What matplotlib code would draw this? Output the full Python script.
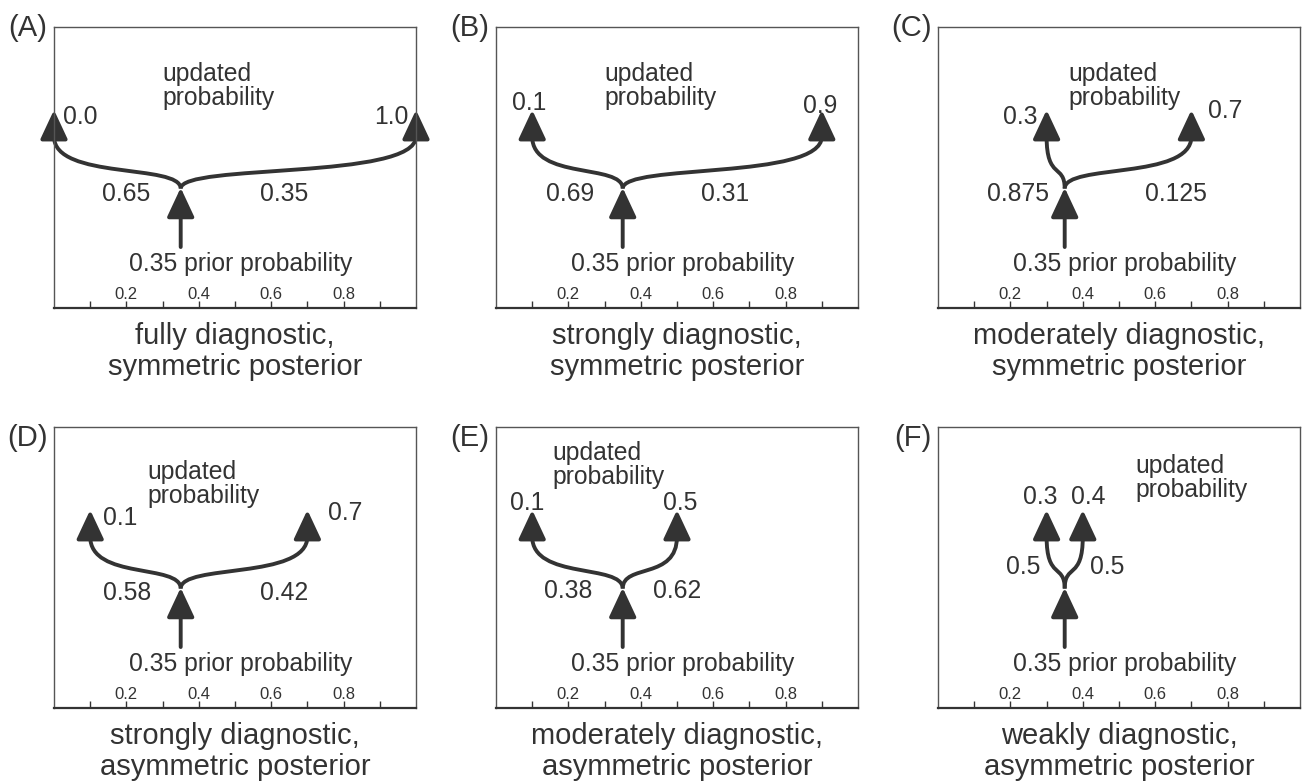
import matplotlib
matplotlib.use("Agg")
import matplotlib.pyplot as plt
from matplotlib.path import Path
from matplotlib.patches import FancyArrowPatch, ArrowStyle

plt.rcParams['font.family'] = ['Liberation Sans', 'DejaVu Sans']

# ---------------- data ----------------
panel_labels = ["(A)", "(B)", "(C)", "(D)", "(E)", "(F)"]
prior = 0.35
prior_text = "0.35 prior probability"
left_posterior = [0.0, 0.1, 0.3, 0.1, 0.1, 0.3]
right_posterior = [1.0, 0.9, 0.7, 0.7, 0.5, 0.4]
left_post_text = ["0.0", "0.1", "0.3", "0.1", "0.1", "0.3"]
right_post_text = ["1.0", "0.9", "0.7", "0.7", "0.5", "0.4"]
left_weight = ["0.65", "0.69", "0.875", "0.58", "0.38", "0.5"]
right_weight = ["0.35", "0.31", "0.125", "0.42", "0.62", "0.5"]
titles = ["fully diagnostic,\nsymmetric posterior",
          "strongly diagnostic,\nsymmetric posterior",
          "moderately diagnostic,\nsymmetric posterior",
          "strongly diagnostic,\nasymmetric posterior",
          "moderately diagnostic,\nasymmetric posterior",
          "weakly diagnostic,\nasymmetric posterior"]
major_ticks = [0.2, 0.4, 0.6, 0.8]
major_tick_labels = ["0.2", "0.4", "0.6", "0.8"]
minor_ticks = [0.1, 0.3, 0.5, 0.7, 0.9]

# ---------------- layout ----------------
W, H = 1302, 782
col_left = [54, 496, 938]
row_top = [27, 427]
box_w, box_h = 362, 281

post_label_layout = [
    ((0.025, 0.68, 'left'), (0.98, 0.68, 'right')),
    ((0.091, 0.73, 'center'), (0.895, 0.72, 'center')),
    ((0.276, 0.68, 'right'), (0.746, 0.70, 'left')),
    ((0.134, 0.677, 'left'), (0.758, 0.695, 'left')),
    ((0.087, 0.73, 'center'), (0.508, 0.73, 'center')),
    ((0.283, 0.752, 'center'), (0.416, 0.752, 'center')),
]
weight_label_layout = [
    ((0.20, 0.405), (0.636, 0.405)),
    ((0.204, 0.405), (0.634, 0.405)),
    ((0.22, 0.405), (0.657, 0.405)),
    ((0.203, 0.41), (0.636, 0.41)),
    ((0.199, 0.415), (0.50, 0.415)),
    ((0.236, 0.50), (0.467, 0.50)),
]
updated_layout = [(0.30, 0.79), (0.30, 0.79), (0.36, 0.79),
                  (0.258, 0.797), (0.157, 0.865), (0.546, 0.818)]
label_y = [0.995, 0.962]

TXT = '#333333'
ARW = '#333333'
stem_y0, stem_y1 = 0.217, 0.428
branch_y0, curve_end_y, tip_y = 0.425, 0.61, 0.705

style = ArrowStyle('-|>', head_length=0.9, head_width=0.42)

fig = plt.figure(figsize=(W / 100, H / 100), dpi=100)

for i in range(6):
    r, c = divmod(i, 3)
    rect = [col_left[c] / W, 1 - (row_top[r] + box_h) / H, box_w / W, box_h / H]
    ax = fig.add_axes(rect)
    ax.set_xlim(0, 1)
    ax.set_ylim(0, 1)
    ax.set_yticks([])
    ax.set_xticks(major_ticks)
    ax.set_xticklabels(major_tick_labels)
    ax.set_xticks(minor_ticks, minor=True)
    ax.tick_params(axis='x', which='both', direction='in', length=5, width=1.0,
                   color='#333333')
    ax.tick_params(axis='x', which='major', pad=-15, labelsize=12,
                   labelcolor=TXT)
    for s in ['top', 'left', 'right']:
        ax.spines[s].set_color('#555555')
        ax.spines[s].set_linewidth(1.0)
    ax.spines['bottom'].set_color('#333333')
    ax.spines['bottom'].set_linewidth(1.6)

    # stem arrow
    stem = FancyArrowPatch((prior, stem_y0), (prior, stem_y1), arrowstyle=style,
                           mutation_scale=20, lw=2.8, color=ARW,
                           shrinkA=0, shrinkB=0, clip_on=False)
    ax.add_patch(stem)

    # branches
    for xe in (left_posterior[i], right_posterior[i]):
        verts = [(prior, branch_y0), (prior, branch_y0 + 0.09),
                 (xe, branch_y0 + 0.03), (xe, curve_end_y), (xe, tip_y)]
        codes = [Path.MOVETO, Path.CURVE4, Path.CURVE4, Path.CURVE4, Path.LINETO]
        arr = FancyArrowPatch(path=Path(verts, codes), arrowstyle=style,
                              mutation_scale=20, lw=2.8, color=ARW,
                              clip_on=False, joinstyle='round', capstyle='butt')
        ax.add_patch(arr)

    fs = 17.8
    (lx, ly, lha), (rx, ry, rha) = post_label_layout[i]
    ax.text(lx, ly, left_post_text[i], ha=lha, va='center', fontsize=fs, color=TXT)
    ax.text(rx, ry, right_post_text[i], ha=rha, va='center', fontsize=fs, color=TXT)
    (wlx, wly), (wrx, wry) = weight_label_layout[i]
    ax.text(wlx, wly, left_weight[i], ha='center', va='center', fontsize=fs, color=TXT)
    ax.text(wrx, wry, right_weight[i], ha='center', va='center', fontsize=fs, color=TXT)
    ux, uy = updated_layout[i]
    ax.text(ux, uy, "updated\nprobability", ha='left', va='center', fontsize=fs,
            color=TXT, linespacing=0.98)
    ax.text(0.515, 0.155, prior_text, ha='center', va='center', fontsize=fs, color=TXT)

    ax.text(-0.018, label_y[r], panel_labels[i], ha='right', va='center',
            fontsize=21, color=TXT, transform=ax.transAxes)
    ax.text(0.5, -0.05, titles[i], ha='center', va='top', fontsize=21,
            color=TXT, linespacing=1.12, transform=ax.transAxes)

fig.savefig("out.png", dpi=100)
